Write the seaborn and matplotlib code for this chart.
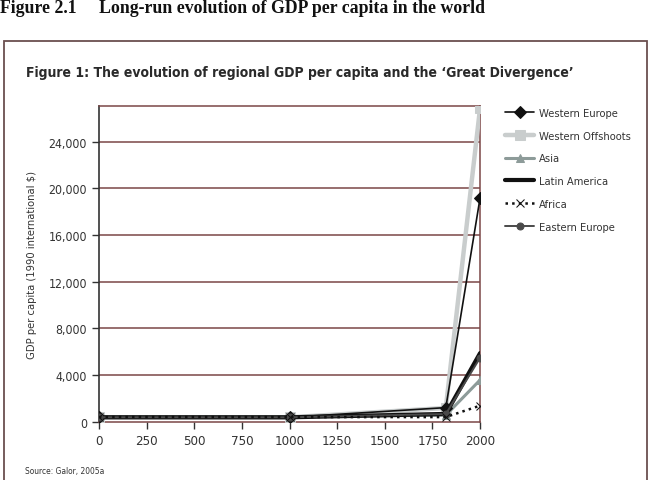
import numpy as np
import pandas as pd
import matplotlib.pyplot as plt
import matplotlib.patches as patches
import seaborn as sns

# Maddison-style regional GDP per capita (1990 int. $)
years = [0, 1000, 1820, 2000]
western_europe = [450, 400, 1230, 19200]
western_offshoots = [400, 400, 1200, 26900]
asia = [450, 460, 580, 3600]
latin_america = [400, 400, 690, 5900]
africa = [430, 420, 420, 1400]
eastern_europe = [400, 400, 680, 5500]

regions = ['Western Europe', 'Western Offshoots', 'Asia', 'Latin America', 'Africa', 'Eastern Europe']
series = [western_europe, western_offshoots, asia, latin_america, africa, eastern_europe]

y_ticks = [0, 4000, 8000, 12000, 16000, 20000, 24000]
x_ticks = [0, 250, 500, 750, 1000, 1250, 1500, 1750, 2000]

sns.set_theme(style='white')
narrow = ['DejaVu Sans']
plt.rcParams['font.family'] = narrow
plt.rcParams['font.stretch'] = 'condensed'

# 样式：颜色、线宽、标记、线型、图层
styles = {
    'Western Europe': dict(color='#111111', lw=1.2, marker='D', ms=6, ls='-', z=6),
    'Western Offshoots': dict(color='#c9cdcd', lw=3.2, marker='s', ms=7, ls='-', z=3),
    'Asia': dict(color='#8d9b99', lw=2.2, marker='^', ms=6, ls='-', z=4),
    'Latin America': dict(color='#111111', lw=3.0, marker=None, ms=0, ls='-', z=5),
    'Africa': dict(color='#111111', lw=1.8, marker='x', ms=6, ls=':', z=7),
    'Eastern Europe': dict(color='#4a4a4a', lw=1.4, marker='o', ms=5, ls='-', z=6),
}

df = pd.DataFrame({'year': years * len(regions),
                   'gdp': [v for s in series for v in s],
                   'region': [r for r in regions for _ in years]})

fig = plt.figure(figsize=(6.55, 4.81), dpi=100)
ax = fig.add_axes([0.151, 0.1206, 0.582, 0.656])

for r in regions:
    st = styles[r]
    sub = df[df['region'] == r]
    sns.lineplot(data=sub, x='year', y='gdp', ax=ax, color=st['color'], lw=st['lw'],
                 marker=st['marker'], markersize=st['ms'], linestyle=st['ls'],
                 markeredgecolor=st['color'], label=r, zorder=st['z'])

ax.set_xlim(0, 2000)
ax.set_ylim(0, 27000)
ax.set_xticks(x_ticks)
ax.set_xticklabels([str(t) for t in x_ticks])
ax.set_yticks(y_ticks)
ax.set_yticklabels(['{:,}'.format(t) for t in y_ticks])
ax.tick_params(axis='both', which='major', length=5, width=1, color='#333333',
               labelsize=9.5, labelcolor='#333333', direction='out', bottom=True, left=True)
ax.tick_params(axis='y', labelsize=8.8)
ax.set_xlabel('')
ax.set_ylabel('GDP per capita (1990 international $)', fontsize=8, color='#333333', labelpad=8)

grid_color = '#7a4646'
for t in y_ticks[1:]:
    ax.axhline(t, color=grid_color, lw=1.1, zorder=1)
for side in ['top', 'right', 'bottom']:
    ax.spines[side].set_color(grid_color)
    ax.spines[side].set_linewidth(1.1)
ax.spines['left'].set_color('#333333')
ax.spines['left'].set_linewidth(1.2)

leg = ax.legend(loc='upper left', bbox_to_anchor=(1.04, 1.027), frameon=False,
                fontsize=8, handlelength=2.6, labelspacing=1.15, handletextpad=0.4)
for txt in leg.get_texts():
    txt.set_color('#333333')

# 外框与标题
fig.patches.append(patches.Rectangle((0.006, -0.05), 0.982, 0.963, transform=fig.transFigure,
                                     fill=False, edgecolor='#6b4f4f', lw=1.3))
fig.text(0.0, 0.983, 'Figure 2.1     Long-run evolution of GDP per capita in the world',
         family=['Liberation Serif', 'DejaVu Serif'], fontweight='bold', fontsize=12.8,
         va='center', ha='left', color='#111111')
fig.text(0.04, 0.848, 'Figure 1: The evolution of regional GDP per capita and the \u2018Great Divergence\u2019',
         family=narrow, fontweight='bold', fontsize=10, va='center', ha='left', color='#2a2a2a')
fig.text(0.038, 0.019, 'Source: Galor, 2005a', family=narrow, fontsize=6, color='#333333',
         va='center', ha='left')

fig.savefig('out.png', dpi=100)
